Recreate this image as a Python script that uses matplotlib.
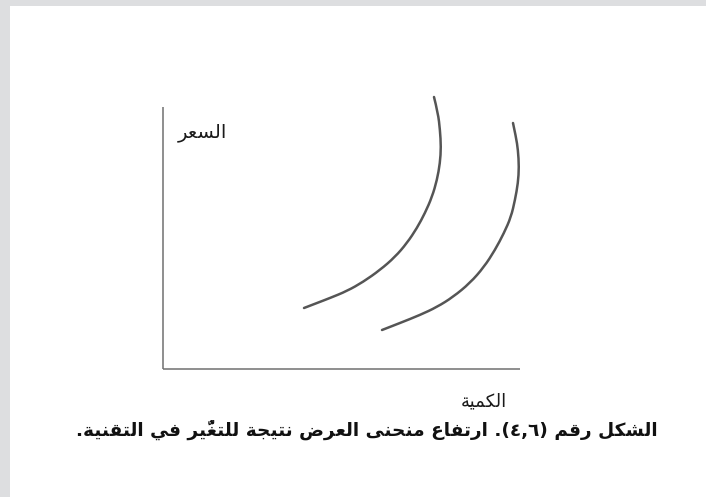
import matplotlib
matplotlib.use("Agg")
import matplotlib.pyplot as plt
from matplotlib.patches import Rectangle, PathPatch
from matplotlib.path import Path

# نصوص الشكل
y_label = "السعر"
x_label = "الكمية"
caption = "الشكل رقم (٤,٦). ارتفاع منحنى العرض نتيجة للتغيُّر في التقنية."

# منحنى العرض الأصلي (الكمية، السعر)
s1_q = [27.1, 27.5, 27.7, 27.8, 27.7, 27.4, 26.9, 26.2, 25.4, 24.4, 23.2, 21.7, 20.0, 18.4, 16.7, 15.4, 14.1]
s1_p = [27.2, 25.6, 23.9, 22.2, 20.6, 18.9, 17.2, 15.6, 14.1, 12.6, 11.2, 9.9, 8.7, 7.8, 7.1, 6.6, 6.1]
# منحنى العرض بعد التغير في التقنية
s2_q = [35.0, 35.3, 35.5, 35.6, 35.5, 35.2, 34.8, 34.1, 33.2, 32.1, 30.7, 29.0, 27.4, 25.7, 23.7, 21.9]
s2_p = [24.6, 23.2, 21.9, 20.2, 18.6, 16.9, 15.2, 13.6, 11.9, 10.2, 8.6, 7.2, 6.2, 5.4, 4.6, 3.9]

q_max = 35.7   # طول محور الكمية
p_max = 26.2   # طول محور السعر

# matplotlib لا يصل الحروف العربية، فنحولها إلى أشكال العرض ونعكس الاتجاه
FORMS = {
    'ا': (0xFE8D, 0xFE8E), 'ب': (0xFE8F, 0xFE90, 0xFE91, 0xFE92),
    'ة': (0xFE93, 0xFE94), 'ت': (0xFE95, 0xFE96, 0xFE97, 0xFE98),
    'ث': (0xFE99, 0xFE9A, 0xFE9B, 0xFE9C), 'ج': (0xFE9D, 0xFE9E, 0xFE9F, 0xFEA0),
    'ح': (0xFEA1, 0xFEA2, 0xFEA3, 0xFEA4), 'خ': (0xFEA5, 0xFEA6, 0xFEA7, 0xFEA8),
    'د': (0xFEA9, 0xFEAA), 'ذ': (0xFEAB, 0xFEAC), 'ر': (0xFEAD, 0xFEAE),
    'ز': (0xFEAF, 0xFEB0), 'س': (0xFEB1, 0xFEB2, 0xFEB3, 0xFEB4),
    'ش': (0xFEB5, 0xFEB6, 0xFEB7, 0xFEB8), 'ص': (0xFEB9, 0xFEBA, 0xFEBB, 0xFEBC),
    'ض': (0xFEBD, 0xFEBE, 0xFEBF, 0xFEC0), 'ط': (0xFEC1, 0xFEC2, 0xFEC3, 0xFEC4),
    'ظ': (0xFEC5, 0xFEC6, 0xFEC7, 0xFEC8), 'ع': (0xFEC9, 0xFECA, 0xFECB, 0xFECC),
    'غ': (0xFECD, 0xFECE, 0xFECF, 0xFED0), 'ف': (0xFED1, 0xFED2, 0xFED3, 0xFED4),
    'ق': (0xFED5, 0xFED6, 0xFED7, 0xFED8), 'ك': (0xFED9, 0xFEDA, 0xFEDB, 0xFEDC),
    'ل': (0xFEDD, 0xFEDE, 0xFEDF, 0xFEE0), 'م': (0xFEE1, 0xFEE2, 0xFEE3, 0xFEE4),
    'ن': (0xFEE5, 0xFEE6, 0xFEE7, 0xFEE8), 'ه': (0xFEE9, 0xFEEA, 0xFEEB, 0xFEEC),
    'و': (0xFEED, 0xFEEE), 'ى': (0xFEEF, 0xFEF0),
    'ي': (0xFEF1, 0xFEF2, 0xFEF3, 0xFEF4),
}
MARKS = set('\u064B\u064C\u064D\u064E\u064F\u0650\u0651\u0652')
DIGITS = set('٠١٢٣٤٥٦٧٨٩0123456789,')
MIRROR = {'(': ')', ')': '('}


def rtl(text):
    bases = [i for i, c in enumerate(text) if c not in MARKS]
    shaped = list(text)
    for k, i in enumerate(bases):
        c = text[i]
        if c not in FORMS:
            continue
        prev = text[bases[k - 1]] if k > 0 else ''
        nxt = text[bases[k + 1]] if k + 1 < len(bases) else ''
        jp = prev in FORMS and len(FORMS[prev]) == 4
        jn = len(FORMS[c]) == 4 and nxt in FORMS
        f = FORMS[c]
        if jp and jn:
            shaped[i] = chr(f[3])
        elif jp:
            shaped[i] = chr(f[1])
        elif jn:
            shaped[i] = chr(f[2])
        else:
            shaped[i] = chr(f[0])
    # عناقيد: حرف + حركاته
    clusters = []
    for i, c in enumerate(shaped):
        if text[i] in MARKS and clusters:
            clusters[-1] += c
        else:
            clusters.append(c)
    tokens = []
    for c in clusters:
        if c in DIGITS and tokens and tokens[-1][0] in DIGITS:
            tokens[-1] += c
        else:
            tokens.append(c)
    return ''.join(MIRROR.get(t, t) for t in reversed(tokens))


def smooth_curve(qs, ps):
    # منحنى بيزيه تربيعي: النقاط نقاط تحكم، ومنتصفاتها على المنحنى
    pts = list(zip(qs, ps))
    verts = [pts[0]]
    codes = [Path.MOVETO]
    for a, b in zip(pts[1:-1], pts[2:]):
        verts += [a, ((a[0] + b[0]) / 2, (a[1] + b[1]) / 2)]
        codes += [Path.CURVE3, Path.CURVE3]
    verts.append(pts[-1])
    codes.append(Path.LINETO)
    return Path(verts, codes)


plt.rcParams['font.family'] = ['DejaVu Sans']

fig = plt.figure(figsize=(7.06, 4.97), dpi=100, facecolor='#dddee0')
fig.patches.append(Rectangle((10 / 706, 0), 1, 491 / 497, transform=fig.transFigure,
                             facecolor='white', edgecolor='none', zorder=-5))

ax = fig.add_axes([0, 0, 1, 1])
ax.set_zorder(1)
ax.set_xlim(-16.3, 54.3)
ax.set_ylim(-12.8, 36.9)
ax.axis('off')

# المحوران
ax.plot([0, 0], [0, p_max], color='#707070', linewidth=1.1, solid_capstyle='butt')
ax.plot([0, q_max], [0, 0], color='#707070', linewidth=1.1, solid_capstyle='butt')

# منحنيا العرض
for qs, ps in [(s1_q, s1_p), (s2_q, s2_p)]:
    ax.add_patch(PathPatch(smooth_curve(qs, ps), facecolor='none', edgecolor='#555555',
                           linewidth=1.8, capstyle='round'))

ax.text(3.9, 23.7, rtl(y_label), fontsize=14, color='#1a1a1a', ha='center', va='center')
ax.text(32.1, -3.2, rtl(x_label), fontsize=13, color='#1a1a1a', ha='center', va='center')
ax.text(20.4, -6.1, rtl(caption), fontsize=13.3, fontweight='bold', color='#111111',
        ha='center', va='center')

fig.savefig('out.png', dpi=100, facecolor=fig.get_facecolor())
